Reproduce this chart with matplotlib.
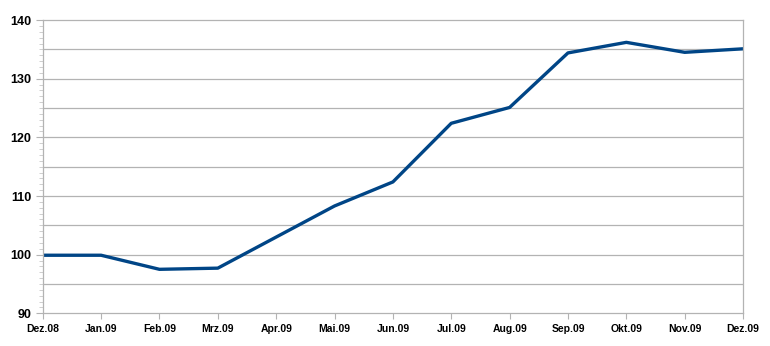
import matplotlib
matplotlib.use('Agg')
import matplotlib.pyplot as plt
from matplotlib.ticker import MultipleLocator

# months and index values
months = ['Dez.08', 'Jan.09', 'Feb.09', 'Mrz.09', 'Apr.09', 'Mai.09', 'Jun.09',
          'Jul.09', 'Aug.09', 'Sep.09', 'Okt.09', 'Nov.09', 'Dez.09']
values = [99.9, 99.9, 97.5, 97.7, 103.0, 108.3, 112.4,
          122.4, 125.1, 134.4, 136.2, 134.5, 135.1]

plt.rcParams['font.family'] = ['Liberation Sans', 'DejaVu Sans']

fig = plt.figure(figsize=(7.7, 3.46), dpi=100)
ax = fig.add_axes([0.0555, 0.0945, 0.9095, 0.8475])

ax.plot(range(len(months)), values, color='#004586', lw=2.4, solid_joinstyle='round')

ax.set_xlim(0, len(months) - 1)
ax.set_ylim(90, 140)
ax.set_xticks(range(len(months)))
ax.set_xticklabels(months, fontsize=7.5, fontweight='bold')
ax.yaxis.set_minor_locator(MultipleLocator(1))
ax.set_yticks(range(90, 141, 10))
ax.set_yticklabels([str(v) for v in range(90, 141, 10)], fontsize=9, fontweight='bold')

# gridlines every 5
for g in range(95, 140, 5):
    ax.axhline(g, color='#b3b3b3', lw=0.9, zorder=0)

for s in ax.spines.values():
    s.set_color('#b3b3b3')
    s.set_linewidth(0.9)

ax.tick_params(axis='x', length=4, color='#b3b3b3', pad=4)
ax.tick_params(axis='y', which='major', length=5, color='#b3b3b3', pad=3)
ax.tick_params(axis='y', which='minor', length=3, color='#c8c8c8')

fig.savefig('out.png', dpi=100)
